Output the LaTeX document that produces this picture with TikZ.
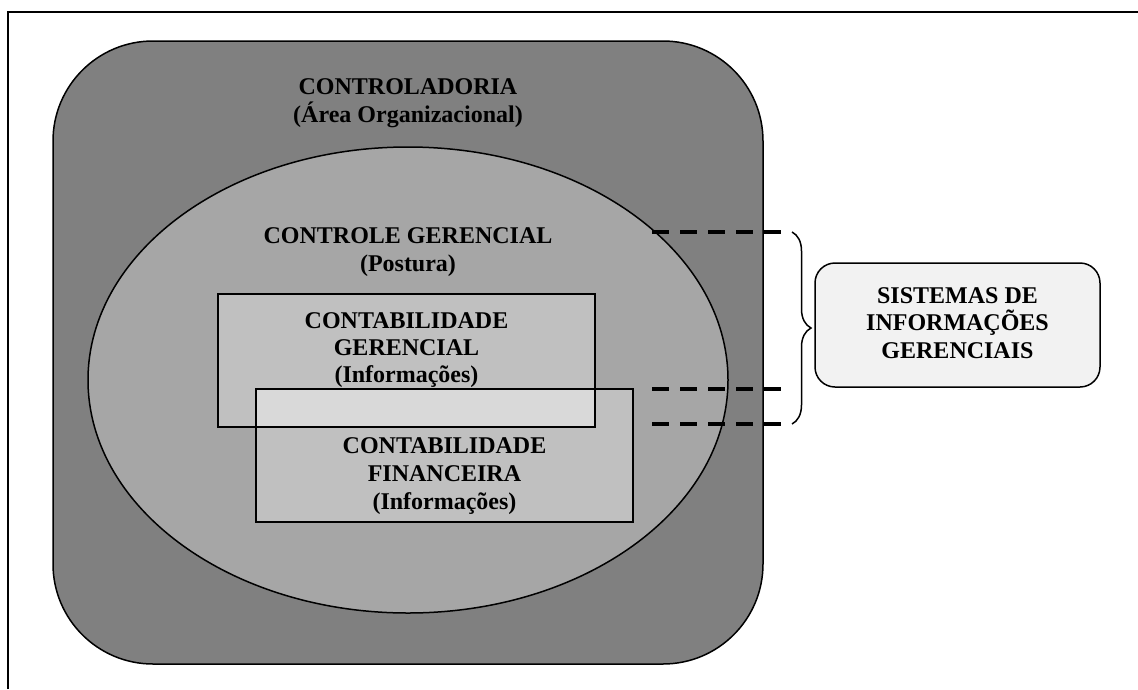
\documentclass[tikz,border=0pt]{standalone}
\usepackage{fontspec}
\setmainfont{Liberation Serif}
\usetikzlibrary{decorations.pathreplacing,shapes.geometric}
\definecolor{outerg}{HTML}{808080}
\definecolor{ellg}{HTML}{A6A6A6}
\definecolor{rectg}{HTML}{C0C0C0}
\definecolor{overg}{HTML}{D9D9D9}
\definecolor{sigg}{HTML}{F2F2F2}
\begin{document}
\begin{tikzpicture}[x=1pt,y=-1pt,
  lbl/.style={font=\fontsize{24}{28}\selectfont\bfseries, anchor=base, inner sep=0pt},
  border/.style={line width=1.5pt},
  dline/.style={line width=3.5pt, dash pattern=on 17pt off 11pt},
  boxr/.style={rectangle, minimum width=377pt, minimum height=133pt, inner sep=0pt}]
\useasboundingbox (0,0) rectangle (1138,689);
\draw[line width=2pt] (8,689) -- (8,12) -- (1138,12);
% outer area
\node[draw, border, fill=outerg, rectangle, rounded corners=100pt, minimum width=710pt, minimum height=623pt, inner sep=0pt] (area) at (408,352.5) {};
% ellipse
\node[draw, border, fill=ellg, ellipse, minimum width=640pt, minimum height=466pt, inner sep=0pt] (cg) at (408,380) {};
% rectangles
\node[boxr, fill=rectg] (ger) at (406.5,360.5) {};
\node[boxr, fill=rectg] (fin) at (444.5,455.5) {};
\fill[overg] (fin.north west) rectangle (ger.south east);
\draw[border] (ger.north west) rectangle (ger.south east);
\draw[border] (fin.north west) rectangle (fin.south east);
% texts
\node[lbl] (t1) at (408,94) {CONTROLADORIA};
\node[lbl] (t2) at (408,122) {(Área Organizacional)};
\node[lbl] (t3) at (408,243) {CONTROLE GERENCIAL};
\node[lbl] (t4) at (408,271) {(Postura)};
\node[lbl] (t5) at (406.5,328) {CONTABILIDADE};
\node[lbl] (t6) at (406.5,355) {GERENCIAL};
\node[lbl] (t7) at (406.5,382) {(Informações)};
\node[lbl] (t8) at (444.5,453) {CONTABILIDADE};
\node[lbl] (t9) at (444.5,481) {FINANCEIRA};
\node[lbl] (t10) at (444.5,509) {(Informações)};
% SIG box
\node[draw, border, fill=sigg, rectangle, rounded corners=20pt, minimum width=285pt, minimum height=124pt, inner sep=0pt] (sig) at (957.5,325) {};
\node[lbl] (s1) at (957.5,303) {SISTEMAS DE};
\node[lbl] (s2) at (957.5,330.5) {INFORMAÇÕES};
\node[lbl] (s3) at (957.5,358) {GERENCIAIS};
% dashed lines
\coordinate (a1) at (652,232); \coordinate (b1) at (781,232);
\coordinate (a2) at (652,389); \coordinate (b2) at (781,389);
\coordinate (a3) at (652,424); \coordinate (b3) at (781,424);
\draw[dline] (a1) -- (b1);
\draw[dline] (a2) -- (b2);
\draw[dline] (a3) -- (b3);
% brace
\coordinate (br1) at (792,232); \coordinate (br2) at (792,424);
\draw[border, decorate, decoration={brace, amplitude=19pt}] (br1) -- (br2);
\end{tikzpicture}
\end{document}
